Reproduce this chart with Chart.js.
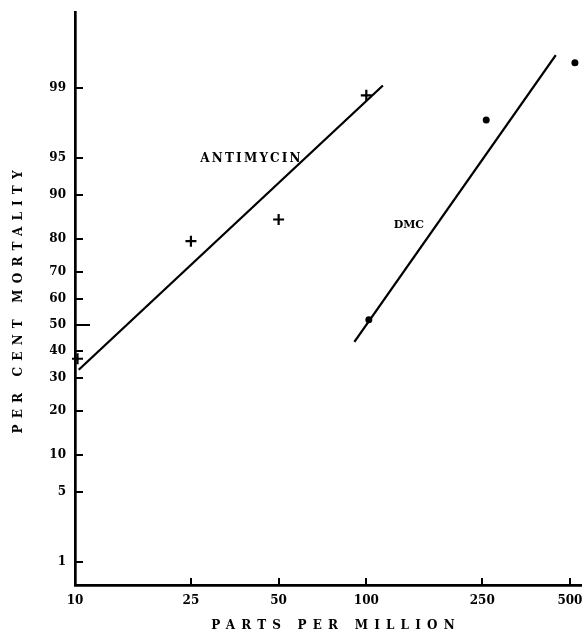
<!DOCTYPE html>
<html>
<head>
<meta charset="utf-8">
<script src="https://cdn.jsdelivr.net/npm/chart.js@4.4.1/dist/chart.umd.min.js"></script>
<style>
  html, body { margin: 0; padding: 0; background: #fff; }
  #wrap { width: 582px; height: 634px; }
</style>
</head>
<body>
<div id="wrap"><canvas id="mortality" width="582" height="634"></canvas></div>
<script>
(function () {
  // observed points (ppm, per cent mortality)
  const antimycinPpm = [10.2, 25, 50, 100];
  const antimycinPct = [37, 79.5, 85, 98.8];
  const dmcPpm = [102, 258, 520];
  const dmcPct = [52, 97.8, 99.5];

  // fitted lines (end points as drawn)
  const antimycinFitPpm = [10.3, 114];
  const antimycinFitPct = [33, 99.07];
  const dmcFitPpm = [91, 447];
  const dmcFitPct = [43.4, 99.6];

  // axes
  const xTickValues = [10, 25, 50, 100, 250, 500];
  const xTickLabels = ['10', '25', '50', '100', '250', '500'];
  const xLimits = [10, 550];
  const yTickPct = [1, 5, 10, 20, 30, 40, 50, 60, 70, 80, 90, 95, 99];
  const yTickLabels = ['1', '5', '10', '20', '30', '40', '50', '60', '70', '80', '90', '95', '99'];
  const yLimits = [0.53, 99.895];

  const serif = '"DejaVu Serif", "Liberation Serif", serif';

  // inverse normal cdf (Acklam) -> probability paper axis
  function probit(p) {
    const a = [-39.6968302866538, 220.946098424521, -275.928510446969, 138.357751867269, -30.6647980661472, 2.50662827745924];
    const b = [-54.4760987982241, 161.585836858041, -155.698979859887, 66.8013118877197, -13.2806815528857];
    const c = [-0.00778489400243029, -0.322396458041136, -2.40075827716184, -2.54973253934373, 4.37466414146497, 2.93816398269878];
    const d = [0.00778469570904146, 0.32246712907004, 2.445134137143, 3.75440866190742];
    const pl = 0.02425;
    let q, r;
    if (p < pl) {
      q = Math.sqrt(-2 * Math.log(p));
      return (((((c[0]*q+c[1])*q+c[2])*q+c[3])*q+c[4])*q+c[5]) / ((((d[0]*q+d[1])*q+d[2])*q+d[3])*q+1);
    }
    if (p > 1 - pl) {
      q = Math.sqrt(-2 * Math.log(1 - p));
      return -(((((c[0]*q+c[1])*q+c[2])*q+c[3])*q+c[4])*q+c[5]) / ((((d[0]*q+d[1])*q+d[2])*q+d[3])*q+1);
    }
    q = p - 0.5;
    r = q * q;
    return (((((a[0]*r+a[1])*r+a[2])*r+a[3])*r+a[4])*r+a[5])*q / (((((b[0]*r+b[1])*r+b[2])*r+b[3])*r+b[4])*r+1);
  }

  const toPoints = (xs, pcts) => xs.map((x, i) => ({x: x, y: probit(pcts[i] / 100)}));

  // ticks pointing into the plot, as on the paper
  const inwardTicks = {
    id: 'inwardTicks',
    afterDraw(chart) {
      const ctx = chart.ctx;
      const area = chart.chartArea;
      const xs = chart.scales.x, ys = chart.scales.y;
      ctx.save();
      ctx.strokeStyle = '#000';
      ctx.lineWidth = 2;
      ys.ticks.forEach((t, i) => {
        const y = Math.round(ys.getPixelForValue(t.value));
        const long = yTickLabels[i] === '50';
        ctx.beginPath();
        ctx.moveTo(area.left - (long ? 1 : 0), y);
        ctx.lineTo(area.left + (long ? 15 : 8), y);
        ctx.stroke();
      });
      xs.ticks.forEach((t, i) => {
        if (i === 0) return;
        const x = Math.round(xs.getPixelForValue(t.value));
        ctx.beginPath();
        ctx.moveTo(x, area.bottom);
        ctx.lineTo(x, area.bottom - 7);
        ctx.stroke();
      });
      ctx.restore();
    }
  };

  function spacedText(ctx, text, cx, cy, spacing) {
    ctx.letterSpacing = spacing + 'px';
    const w = ctx.measureText(text).width - spacing;
    ctx.textAlign = 'left';
    ctx.textBaseline = 'middle';
    ctx.fillText(text, cx - w / 2, cy);
  }

  // axis titles and curve names
  const labels = {
    id: 'labels',
    afterDraw(chart) {
      const ctx = chart.ctx;
      const xs = chart.scales.x, ys = chart.scales.y;
      ctx.save();
      ctx.fillStyle = '#000';
      ctx.font = 'bold 12px ' + serif;
      spacedText(ctx, 'ANTIMYCIN', xs.getPixelForValue(40), ys.getPixelForValue(probit(0.949)), 2.2);
      ctx.font = 'bold 11px ' + serif;
      spacedText(ctx, 'DMC', xs.getPixelForValue(140), ys.getPixelForValue(probit(0.836)), 0);
      ctx.font = 'bold 12px ' + serif;
      spacedText(ctx, 'PARTS PER MILLION', 333, 626, 6.2);
      ctx.save();
      ctx.translate(19, 302);
      ctx.rotate(-Math.PI / 2);
      spacedText(ctx, 'PER CENT MORTALITY', 0, 0, 6.2);
      ctx.restore();
      ctx.restore();
    }
  };

  const tickFont = {family: serif, size: 12, weight: 'bold'};

  new Chart(document.getElementById('mortality').getContext('2d'), {
    type: 'scatter',
    data: {
      datasets: [
        {
          type: 'line',
          data: toPoints(antimycinFitPpm, antimycinFitPct),
          borderColor: '#000',
          borderWidth: 2.3,
          pointRadius: 0,
          fill: false
        },
        {
          type: 'line',
          data: toPoints(dmcFitPpm, dmcFitPct),
          borderColor: '#000',
          borderWidth: 2.3,
          pointRadius: 0,
          fill: false
        },
        {
          data: toPoints(antimycinPpm, antimycinPct),
          pointStyle: 'cross',
          pointRadius: 5.5,
          borderWidth: 2.2,
          borderColor: '#000',
          backgroundColor: '#000',
          clip: false
        },
        {
          data: toPoints(dmcPpm, dmcPct),
          pointStyle: 'circle',
          pointRadius: 3.5,
          borderWidth: 0,
          backgroundColor: '#000',
          clip: false
        }
      ]
    },
    options: {
      responsive: false,
      animation: false,
      events: [],
      layout: {autoPadding: false, padding: {left: 0, top: 12, right: 0, bottom: 0}},
      plugins: {legend: {display: false}, tooltip: {enabled: false}},
      scales: {
        x: {
          type: 'logarithmic',
          min: xLimits[0],
          max: xLimits[1],
          afterBuildTicks: (s) => { s.ticks = xTickValues.map((v) => ({value: v})); },
          afterFit: (s) => { s.height = 49; s.paddingLeft = 0; s.paddingRight = 0; },
          grid: {drawOnChartArea: false, drawTicks: false},
          border: {display: true, color: '#000', width: 2.7},
          ticks: {
            color: '#000',
            font: tickFont,
            padding: 9,
            autoSkip: false,
            maxRotation: 0,
            callback: (v, i) => xTickLabels[i]
          }
        },
        y: {
          type: 'linear',
          min: probit(yLimits[0] / 100),
          max: probit(yLimits[1] / 100),
          afterBuildTicks: (s) => { s.ticks = yTickPct.map((p) => ({value: probit(p / 100)})); },
          afterFit: (s) => { s.width = 75; s.paddingTop = 0; s.paddingBottom = 0; },
          grid: {drawOnChartArea: false, drawTicks: false},
          border: {display: true, color: '#000', width: 2.7},
          ticks: {
            color: '#000',
            font: tickFont,
            padding: 9,
            autoSkip: false,
            callback: (v, i) => yTickLabels[i]
          }
        }
      }
    },
    plugins: [inwardTicks, labels]
  });
})();
</script>
</body>
</html>
